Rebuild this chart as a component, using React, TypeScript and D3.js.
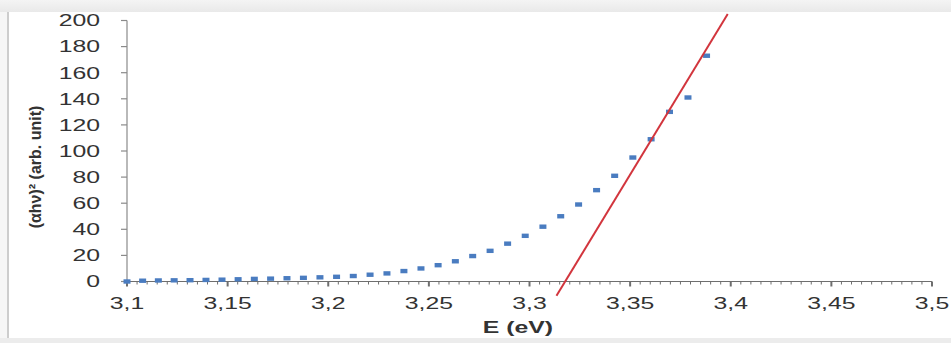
import React from "react";
import * as d3 from "d3";

// Wavelengths (nm) of the measured points; E = 1240 / λ
const wavelengths = [400,399,398,397,396,395,394,393,392,391,390,389,388,387,386,385,384,383,382,381,380,379,378,377,376,375,374,373,372,371,370,369,368,367,366];
// (αhν)² values
const values = [0,0.6,0.8,0.9,1,1.2,1.4,1.7,2,2.2,2.5,2.8,3.2,3.6,4.2,5.2,6.2,8,10,12.5,15.5,19.5,23.5,29,35,42,50,59,70,81,95,109,130,141,173];
// Linear fit (tangent) end points
const fitE = [3.3134, 3.3985];
const fitV = [-11, 205];

const xTicks = [3.1,3.15,3.2,3.25,3.3,3.35,3.4,3.45,3.5];
const xTickLabels = ["3,1","3,15","3,2","3,25","3,3","3,35","3,4","3,45","3,5"];
const yTicks = [0,20,40,60,80,100,120,140,160,180,200];

const W = 951, H = 343;
const SX = 1.55;

export default function App() {
  const x = d3.scaleLinear().domain([3.1, 3.5]).range([127, 932]);
  const y = d3.scaleLinear().domain([0, 200]).range([281.5, 20.5]);
  const pts = wavelengths.map((l, i) => ({ e: 1240 / l, v: values[i] }));
  const minor = d3.range(0, 81).map(i => 3.1 + i * 0.005);
  const line = d3.line<number>().x((_, i) => x(fitE[i])).y((v) => y(v));
  const font = "'Liberation Sans', Arial, sans-serif";
  const textCol = "#333333";
  return (
    <svg width={W} height={H} style={{ position: "absolute", left: 0, top: 0, background: "#fff" }}>
      <defs>
        <linearGradient id="topg" x1="0" y1="0" x2="0" y2="1">
          <stop offset="0" stopColor="#f4f4f4" />
          <stop offset="1" stopColor="#e9e9e9" />
        </linearGradient>
      </defs>
      <rect x={0} y={0} width={W} height={H} fill="#fff" />
      <rect x={0} y={0} width={W} height={12} fill="url(#topg)" />
      <rect x={0} y={338} width={W} height={5} fill="#ececec" />
      <rect x={0} y={12} width={7} height={326} fill="#f6f6f6" />
      <line x1={8} x2={8} y1={12} y2={338} stroke="#bdbdbd" strokeWidth={1.5} />

      {/* y axis */}
      <line x1={127} x2={127} y1={y(200)} y2={y(0)} stroke="#8a8a8a" strokeWidth={1.2} />
      {yTicks.map(t => (
        <g key={"y" + t}>
          <line x1={121} x2={127} y1={y(t)} y2={y(t)} stroke="#8a8a8a" strokeWidth={1.2} />
          <text transform={`translate(100,${y(t) + 5.8}) scale(${SX},1)`} textAnchor="end"
            fontFamily={font} fontSize={16} fill={textCol}>{t}</text>
        </g>
      ))}

      {/* x axis */}
      <line x1={x(3.1)} x2={x(3.5)} y1={y(0)} y2={y(0)} stroke="#6e6e6e" strokeWidth={1.2} />
      {minor.map((m, i) => (
        <line key={"m" + i} x1={x(m)} x2={x(m)} y1={y(0)} y2={y(0) + (i % 10 === 0 ? 5 : 3)}
          stroke="#6e6e6e" strokeWidth={i % 10 === 0 ? 2 : 1} />
      ))}
      {xTicks.map((t, i) => (
        <text key={"xl" + i} transform={`translate(${x(t)},308.5) scale(${SX},1)`} textAnchor="middle"
          fontFamily={font} fontSize={16} fill={textCol}>{xTickLabels[i]}</text>
      ))}

      {/* points */}
      {pts.map((p, i) => (
        <rect key={"p" + i} x={x(p.e) - 3.5} y={y(p.v) - 2.2} width={7} height={4.4} fill="#4a7cc0" />
      ))}

      {/* fit line */}
      <path d={line(fitV) || ""} fill="none" stroke="#d2353d" strokeWidth={2} />

      {/* titles */}
      <text transform={`translate(518,333) scale(${SX},1)`} textAnchor="middle" fontFamily={font}
        fontSize={16} fontWeight="bold" fill={textCol}>E (eV)</text>
      <text transform={`translate(41,167) rotate(-90)`} textAnchor="middle" fontFamily={font}
        fontSize={16} fontWeight="bold" fill={textCol}>(αhν)² (arb. unit)</text>
    </svg>
  );
}
